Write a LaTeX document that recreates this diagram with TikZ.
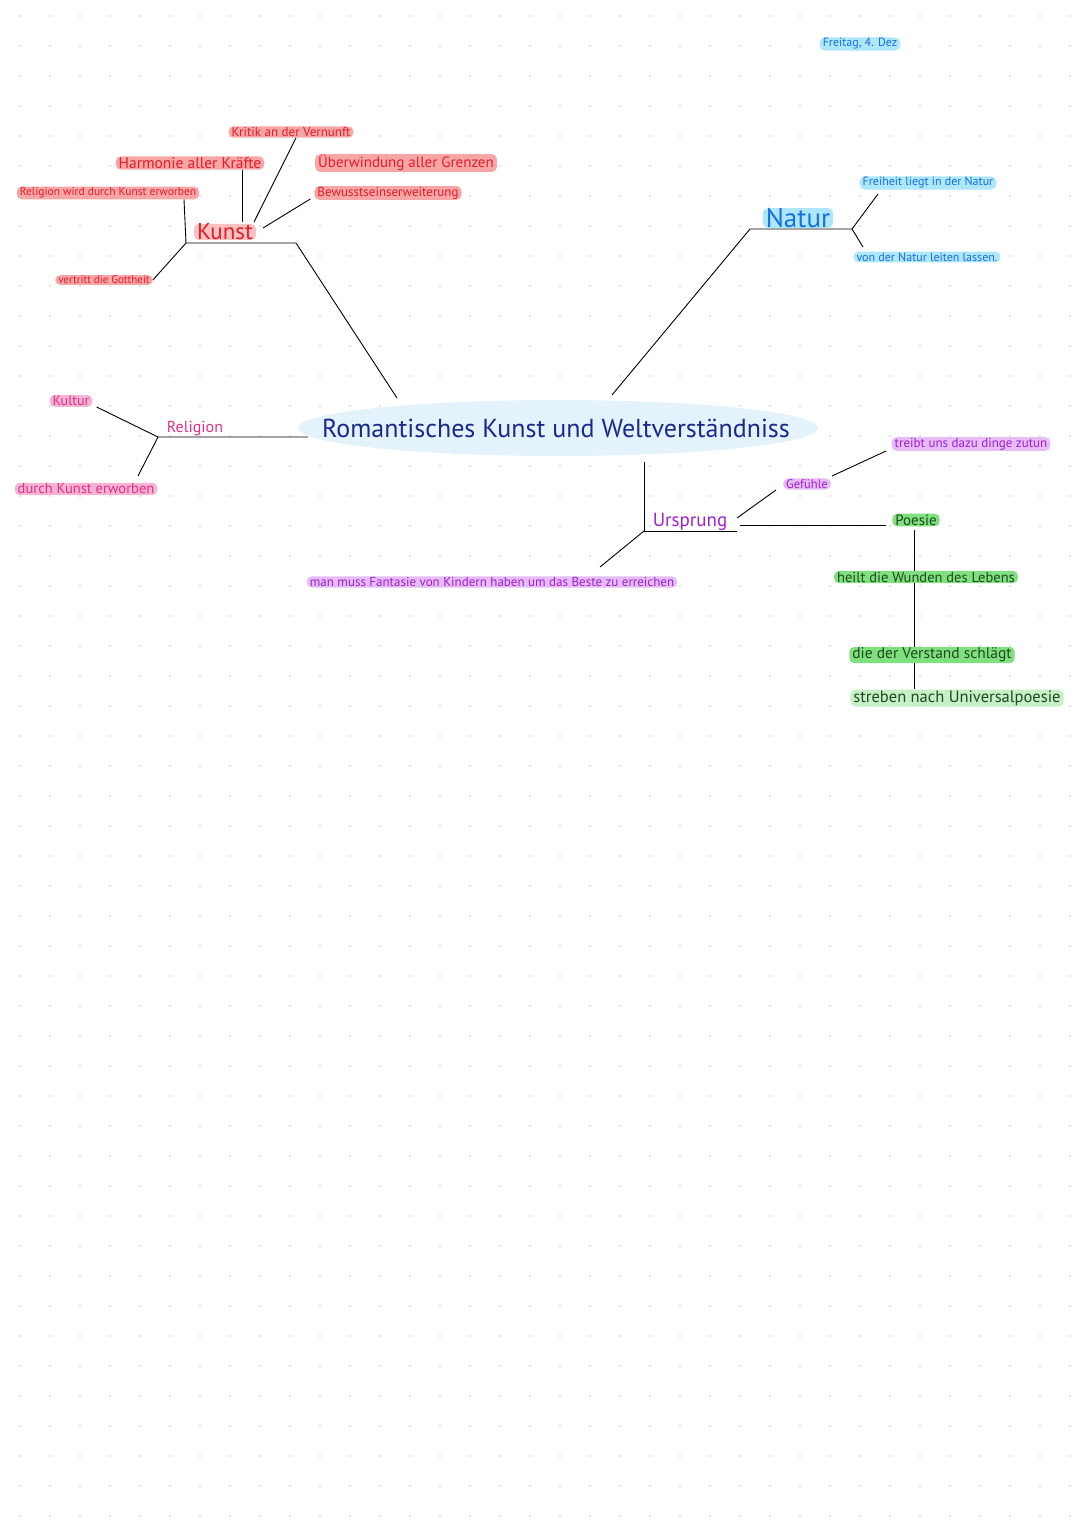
\documentclass[tikz,border=0pt]{standalone}
\usepackage{fontspec}
\setmainfont{PT Sans}
\usetikzlibrary{shapes.geometric}
\definecolor{rfill}{HTML}{F6A6A6}\definecolor{rtext}{HTML}{E01E2A}
\definecolor{bfill}{HTML}{AEE6FA}\definecolor{btext}{HTML}{1670E0}
\definecolor{pfill}{HTML}{E6BCF6}\definecolor{ptext}{HTML}{A020D0}
\definecolor{gfill}{HTML}{80E080}\definecolor{gtext}{HTML}{1E4A1E}
\definecolor{kfill}{HTML}{F6B4D4}\definecolor{ktext}{HTML}{E0308A}
\definecolor{navy}{HTML}{1A2A8C}\definecolor{ell}{HTML}{E4F2FC}
\tikzset{
 pill/.style={rounded corners=5pt,inner xsep=3pt,inner ysep=1pt,font=\fontsize{#1}{#1}\selectfont},
 red/.style={pill=#1,fill=rfill,text=rtext},
 blu/.style={pill=#1,fill=bfill,text=btext},
 pur/.style={pill=#1,fill=pfill,text=ptext},
 grn/.style={pill=#1,fill=gfill,text=gtext},
 pnk/.style={pill=#1,fill=kfill,text=ktext},
 ln/.style={line width=0.9pt,black}
}
\begin{document}
\begin{tikzpicture}[x=1pt,y=-1pt]
\useasboundingbox (0,0) rectangle (1080,1526);
\fill[white] (0,0) rectangle (1080,1526);
\foreach \i in {0,...,35}{\foreach \j in {0,...,50}{\fill[black!22] (20+30*\i,16+30*\j) circle (0.9pt);}}
% center
\node[ellipse,fill=ell,minimum width=520,minimum height=56] (ce) at (558,428) {};
\node[text=navy,font=\fontsize{26}{26}\selectfont] (c) at (556,428) {Romantisches Kunst und Weltverständniss};
\node[blu=12] (date) at (860,44) {Freitag, 4. Dez};
% Kunst
\node[red=13] (kr) at (291,132) {Kritik an der Vernunft};
\node[red=15.5] (ha) at (190,163) {Harmonie aller Kräfte};
\node[red=15] (ue) at (406,163) {Überwindung aller Grenzen};
\node[red=11.5] (rw) at (108,193) {Religion wird durch Kunst erworben};
\node[red=13] (be) at (388,193) {Bewusstseinserweiterung};
\node[pill=23,fill=rfill!70,text=rtext,inner ysep=0pt] (ku) at (225,232) {Kunst};
\node[red=11] (vg) at (104,280) {vertritt die Gottheit};
\coordinate (k1) at (186,243); \coordinate (k2) at (296,243);
\draw[ln] (rw.south -| 184,0) -- (k1) -- (k2) -- (397,398);
\draw[ln] (k1) -- (vg.east);
\draw[ln] (ha.south -| 242,0) -- (242,222);
\draw[ln] (kr.south) ++(5,0) -- (254,222);
\draw[ln] (be.west) ++(-4,6) -- (263,228);
% Natur
\node[pill=27,fill=bfill,text=btext,inner ysep=0pt] (na) at (798,218) {Natur};
\node[blu=12] (fr) at (928,183) {Freiheit liegt in der Natur};
\node[blu=12] (vn) at (927,257) {von der Natur leiten lassen.};
\coordinate (n1) at (750,229); \coordinate (n2) at (852,229);
\draw[ln] (612,395) -- (n1) -- (n2) -- (878,194);
\draw[ln] (n2) -- (863,247);
% Religion
\node[pnk=14] (kl) at (71,401) {Kultur};
\node[text=ktext,font=\fontsize{16}{16}\selectfont] (re) at (195,429) {Religion};
\node[pnk=14.5] (de) at (86,489) {durch Kunst erworben};
\coordinate (r1) at (158,437);
\draw[ln] (kl.east) ++(4,6) -- (r1) -- (308,437);
\draw[ln] (r1) -- (138,476);
% Ursprung
\node[text=ptext,font=\fontsize{19}{19}\selectfont] (ur) at (690,522) {Ursprung};
\node[pur=13] (mm) at (492,582) {man muss Fantasie von Kindern haben um das Beste zu erreichen};
\node[pur=12.5] (ge) at (807,484) {Gefühle};
\node[pur=13] (tr) at (971,444) {treibt uns dazu dinge zutun};
\node[grn=15] (po) at (916,520) {Poesie};
\node[grn=14.5] (he) at (926,577) {heilt die Wunden des Lebens};
\node[grn=15.5] (dv) at (932,655) {die der Verstand schlägt};
\node[pill=16.5,fill=gfill!45,text=gtext] (st) at (957,698) {streben nach Universalpoesie};
\coordinate (u1) at (644,531); \coordinate (u2) at (737,531);
\draw[ln] (644,462) -- (u1) -- (u2);
\draw[ln] (u1) -- (600,567);
\draw[ln] (737,518) -- (776,490);
\draw[ln] (832,476) -- (886,451);
\draw[ln] (740,525) -- (886,525);
\draw[ln] (914,530) -- (he.north -| 914,0);
\draw[ln] (he.south -| 914,0) -- (dv.north -| 914,0);
\draw[ln] (dv.south -| 914,0) -- (st.north -| 914,0);
\end{tikzpicture}
\end{document}
